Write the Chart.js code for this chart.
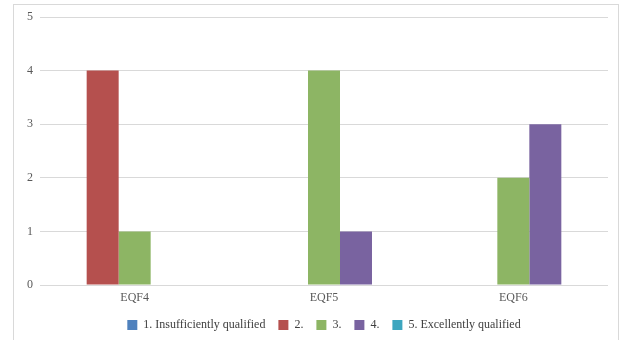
<!DOCTYPE html>
<html>
<head>
<meta charset="utf-8">
<script src="https://cdn.jsdelivr.net/npm/chart.js@4"></script>
<style>
  html, body { margin: 0; padding: 0; background: #ffffff; }
  #wrap { position: relative; width: 626px; height: 340px; overflow: hidden; }
  #frame { position: absolute; left: 13px; top: 4px; width: 606px; height: 360px; border: 1px solid #d9d9d9; box-sizing: border-box; }
  #c { position: absolute; left: 0; top: 0; }
</style>
</head>
<body>
<div id="wrap">
  <div id="frame"></div>
  <canvas id="c" width="626" height="347"></canvas>
</div>
<script>
// Qualification levels per EQF level
const categories = ["EQF4", "EQF5", "EQF6"];
const seriesNames = ["1. Insufficiently qualified", "2.", "3.", "4.", "5. Excellently qualified"];
const level1 = [0, 0, 0];
const level2 = [4, 0, 0];
const level3 = [1, 4, 2];
const level4 = [0, 1, 3];
const level5 = [0, 0, 0];
const yTicks = [0, 1, 2, 3, 4, 5];

const colors = ["#4F81BD", "#B5504E", "#8DB564", "#7963A0", "#3DA6BF"];
const seriesValues = [level1, level2, level3, level4, level5];

const serif = "'Liberation Serif', 'DejaVu Serif', serif";

// Center the legend under the plot area rather than the whole canvas
const centerLegend = {
  id: "centerLegend",
  afterLayout(chart) {
    const lg = chart.legend;
    if (!lg) return;
    const dx = (chart.chartArea.left + chart.chartArea.right) / 2 - (lg.left + lg.right) / 2;
    lg.left += dx;
    lg.right += dx;
  }
};

new Chart(document.getElementById("c"), {
  type: "bar",
  data: {
    labels: categories,
    datasets: seriesValues.map((v, i) => ({
      label: seriesNames[i],
      data: v,
      backgroundColor: colors[i],
      borderWidth: 0,
      categoryPercentage: 0.845,
      barPercentage: 1.0
    }))
  },
  options: {
    responsive: false,
    animation: false,
    devicePixelRatio: 1,
    layout: { padding: { left: 13, right: 18, top: 17, bottom: 6 } },
    plugins: {
      legend: {
        position: "bottom",
        labels: {
          boxWidth: 10,
          boxHeight: 10,
          padding: 13,
          color: "#404040",
          font: { family: serif, size: 12 }
        }
      },
      tooltip: { enabled: false }
    },
    scales: {
      x: {
        grid: { display: false, drawTicks: false },
        border: { display: false },
        ticks: { color: "#595959", font: { family: serif, size: 12 }, padding: 6 },
        afterFit: (axis) => { axis.height = 21; }
      },
      y: {
        min: 0,
        max: 5,
        afterBuildTicks: (axis) => { axis.ticks = yTicks.map(v => ({ value: v })); },
        grid: { color: "#d9d9d9", lineWidth: 1, drawTicks: false },
        border: { display: false },
        ticks: { color: "#595959", font: { family: serif, size: 12 }, padding: 7 },
        afterFit: (axis) => { axis.width = 27; axis.paddingTop = 0; axis.paddingBottom = 0; }
      }
    }
  },
  plugins: [centerLegend]
});
</script>
</body>
</html>
